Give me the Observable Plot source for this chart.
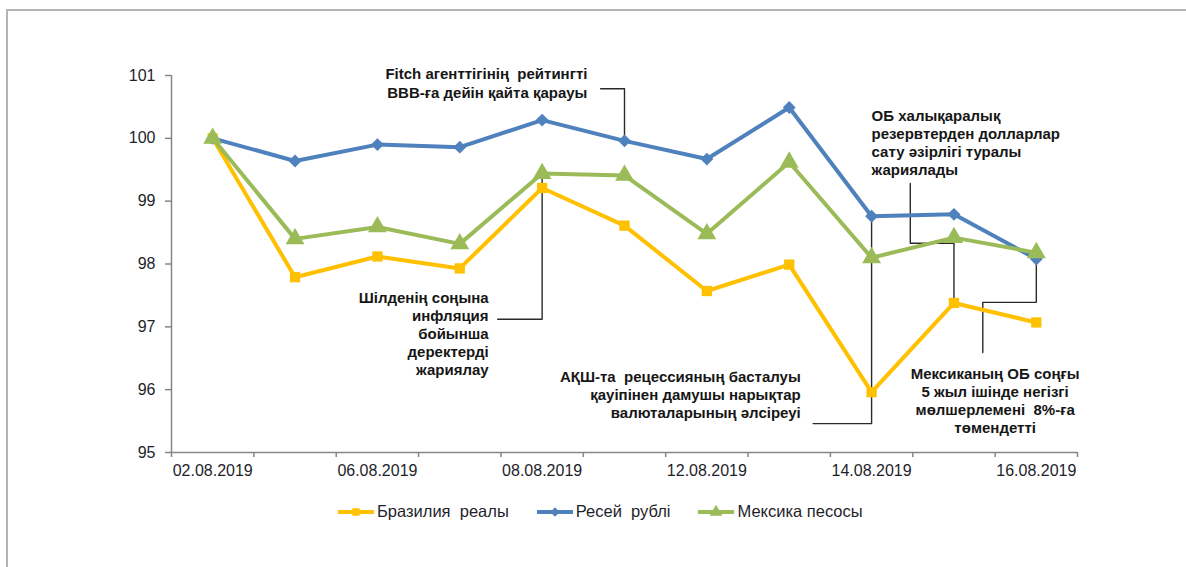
<!DOCTYPE html>
<html>
<head>
<meta charset="utf-8">
<script src="https://cdn.jsdelivr.net/npm/d3@7"></script>
<script src="https://cdn.jsdelivr.net/npm/@observablehq/plot@0.6"></script>
<style>
  html, body { margin: 0; padding: 0; background: #fff; }
  #wrap { position: relative; width: 1186px; height: 567px; overflow: hidden; font-family: "Liberation Sans", Arial, sans-serif; }
  #frame { position: absolute; left: 6px; top: 9px; width: 1300px; height: 700px; border-left: 2px solid #b4b4b4; border-top: 2px solid #b4b4b4; }
  #chart { position: absolute; left: 0; top: 0; }
  #legend { position: absolute; left: 338px; top: 502px; display: flex; align-items: center; font-size: 16.5px; color: #1e1e2a; white-space: pre; }
  .item { display: flex; align-items: center; margin-right: 28px; }
  .item svg { margin-right: 3px; }
</style>
</head>
<body>
<div id="wrap">
  <div id="frame"></div>
  <div id="chart"></div>
  <div id="legend"></div>
</div>
<script>
// ---- data ----
const dates = ["02.08.2019","05.08.2019","06.08.2019","07.08.2019","08.08.2019","09.08.2019","12.08.2019","13.08.2019","14.08.2019","15.08.2019","16.08.2019"];
const labelledDates = [0, 2, 4, 6, 8, 10];
const yTicks = [95, 96, 97, 98, 99, 100, 101];
const seriesNames = ["Бразилия  реалы", "Ресей  рублі", "Мексика песосы"];
const seriesColors = ["#FFC000", "#4F81BD", "#9BBB59"];
const seriesSymbols = ["square", "diamond2", "triangle"];
const brazil = [100, 97.79, 98.12, 97.93, 99.21, 98.61, 97.57, 97.99, 95.96, 97.38, 97.07];
const russia = [100, 99.64, 99.90, 99.86, 100.29, 99.96, 99.67, 100.49, 98.76, 98.79, 98.08];
const mexico = [100, 98.40, 98.59, 98.32, 99.44, 99.41, 98.48, 99.62, 98.10, 98.42, 98.18];

// annotations (anchored in data coordinates: x = date index, y = value)
const noteTexts = [
  "Fitch агенттігінің  рейтингті\nВВВ-ға дейін қайта қарауы",
  "Шілденің соңына\nинфляция\nбойынша\nдеректерді\nжариялау",
  "АҚШ-та  рецессияның басталуы\nқауіпінен дамушы нарықтар\nвалюталарының әлсіреуі",
  "ОБ халықаралық\nрезервтерден долларлар\nсату әзірлігі туралы\nжариялады",
  "Мексиканың ОБ соңғы\n5 жыл ішінде негізгі\nмөлшерлемені  8%-ға\nтөмендетті"
];
const noteX = [4.55, 3.35, 7.14, 8.0, 9.5];
const noteY = [101.17, 97.58, 96.33, 100.48, 96.37];
const noteAnchor = ["end", "end", "end", "start", "middle"];
const noteLineHeight = [1.3, 1.2, 1.2, 1.2, 1.2];
const connectors = [
  [[4.71, 100.79], [5, 100.79], [5, russia[5]]],
  [[3.46, 97.12], [4, 97.12], [4, mexico[4]]],
  [[7.29, 95.46], [8, 95.46], [8, russia[8]]],
  [[8.47, 99.28], [8.47, 98.33], [9, 98.33], [9, brazil[9]]],
  [[9.35, 96.59], [9.35, 97.39], [10, 97.39], [10, russia[10]]]
];

// ---- build ----
const seriesValues = [brazil, russia, mexico];
const rows = seriesValues.flatMap((vals, s) => vals.map((v, i) => ({i, v, s: seriesNames[s]})));
const connRows = connectors.flatMap((pts, k) => pts.map(([x, y]) => ({k, x, y})));
const boundaries = d3.range(-0.5, 11, 1);

const axisColor = "#868686";
const textColor = "#1e1e2a";

const noteMarks = noteTexts.map((t, k) => Plot.text([t], {
  x: () => noteX[k], y: () => noteY[k], text: d => d,
  textAnchor: noteAnchor[k], lineAnchor: "top", lineHeight: noteLineHeight[k],
  fontWeight: "bold", fontSize: 15, fill: "#161616"
}));

const chart = Plot.plot({
  width: 1186,
  height: 485,
  marginLeft: 171,
  marginRight: 109,
  marginTop: 75,
  marginBottom: 33,
  x: {type: "linear", domain: [-0.5, 10.5]},
  y: {domain: [95, 101]},
  style: {fontFamily: "'Liberation Sans', Arial, sans-serif", fontSize: "16px", color: textColor, background: "transparent", overflow: "visible"},
  marks: [
    Plot.axisY({ticks: yTicks, tickSize: 6, tickPadding: 10, tickFormat: d => String(d), stroke: axisColor, strokeWidth: 1.5, label: null, fontSize: 16, fill: textColor}),
    Plot.axisX({ticks: boundaries, tickSize: 5, stroke: axisColor, strokeWidth: 1.5, tickFormat: () => "", label: null}),
    Plot.axisX({ticks: labelledDates, tickSize: 0, tickPadding: 12, tickFormat: i => dates[i], label: null, fontSize: 16, fill: textColor}),
    Plot.ruleX([-0.5], {y1: 95, y2: 101, stroke: axisColor, strokeWidth: 1.5}),
    Plot.ruleY([95], {x1: -0.5, x2: 10.5, stroke: axisColor, strokeWidth: 1.5}),
    Plot.line(connRows, {x: "x", y: "y", z: "k", stroke: "#2a2a2a", strokeWidth: 1.4}),
    ...seriesNames.map((name, s) => Plot.line(rows.filter(d => d.s === name), {x: "i", y: "v", stroke: seriesColors[s], strokeWidth: 4, strokeLinejoin: "miter"})),
    ...seriesNames.map((name, s) => Plot.dot(rows.filter(d => d.s === name), {x: "i", y: "v", symbol: seriesSymbols[s], fill: seriesColors[s], stroke: "none", r: s === 2 ? 7 : 5.8})),
    ...noteMarks
  ]
});
document.getElementById("chart").appendChild(chart);

// legend
const legend = document.getElementById("legend");
seriesNames.forEach((name, s) => {
  const item = document.createElement("div");
  item.className = "item";
  const sym = d3.symbol(s === 0 ? d3.symbolSquare : s === 1 ? d3.symbolDiamond2 : d3.symbolTriangle, s === 2 ? 70 : 55)();
  item.innerHTML = `<svg width="36" height="14"><line x1="0" x2="36" y1="7" y2="7" stroke="${seriesColors[s]}" stroke-width="4"/><path transform="translate(18,7)" d="${sym}" fill="${seriesColors[s]}"/></svg><span>${name}</span>`;
  legend.appendChild(item);
});
</script>
</body>
</html>
